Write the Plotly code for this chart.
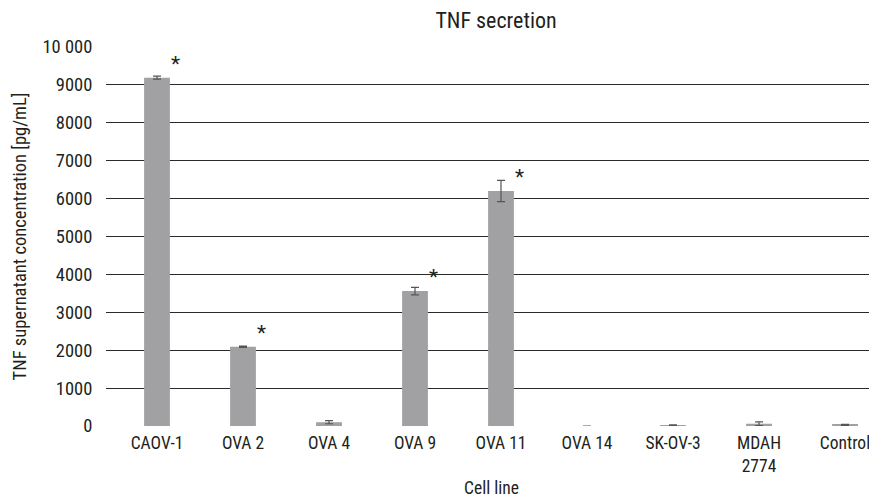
import plotly.graph_objects as go

categories = ["CAOV-1", "OVA 2", "OVA 4", "OVA 9", "OVA 11", "OVA 14", "SK-OV-3", "MDAH<br>2774", "Control"]
values = [9190, 2090, 100, 3560, 6200, 0, 20, 60, 30]
errors = [40, 15, 40, 100, 280, 0, 10, 50, 15]
significant = [True, True, False, True, True, False, False, False, False]
ytick_vals = [0, 1000, 2000, 3000, 4000, 5000, 6000, 7000, 8000, 9000, 10000]
ytick_text = ["0", "1000", "2000", "3000", "4000", "5000", "6000", "7000", "8000", "9000", "10 000"]

FONT = "Roboto Condensed, Liberation Sans Narrow, sans-serif"
TXT = "#231f20"
FS = 18.5
XFS = 17.5

xs = list(range(len(categories)))
fig = go.Figure()
fig.add_trace(go.Bar(
    x=xs, y=values, width=0.30,
    marker=dict(color="#a1a1a4", line=dict(width=0)),
    error_y=dict(type="data", array=errors, visible=True, color="#555555", thickness=1.2, width=4),
))

for i, (v, s) in enumerate(zip(values, significant)):
    if s:
        fig.add_annotation(x=i + 0.22, y=v, text="*", showarrow=False,
                           xref="x", yref="y", yshift=14,
                           font=dict(family=FONT, size=21, color=TXT))

# page body has an 8px margin, so the figure is sized/offset to compensate
fig.update_layout(
    width=869, height=490,
    margin=dict(l=98, r=0, t=39, b=72),
    paper_bgcolor="white", plot_bgcolor="white",
    showlegend=False,
    font=dict(family=FONT, size=FS, color=TXT),
    title=dict(text="TNF secretion", x=0.5616, xanchor="center", y=0.974, yanchor="middle",
               font=dict(family=FONT, size=22, color=TXT)),
)
fig.update_xaxes(
    tickmode="array", tickvals=xs, ticktext=categories, automargin=False,
    range=[-0.593, 8.372], showgrid=False, zeroline=False, showline=False,
    ticks="outside", ticklen=1, tickcolor="rgba(0,0,0,0)",
    title=dict(text="Cell line", font=dict(family=FONT, size=XFS, color=TXT), standoff=6),
    tickfont=dict(family=FONT, size=XFS, color=TXT),
)
fig.update_yaxes(
    range=[0, 10000], tickmode="array", tickvals=ytick_vals, ticktext=ytick_text, automargin=False,
    showgrid=True, gridcolor="#2a2a2a", gridwidth=1.2, zeroline=False, showline=False,
    ticks="outside", ticklen=9, tickcolor="rgba(0,0,0,0)",
    title=dict(text="TNF supernatant concentration [pg/mL]", font=dict(family=FONT, size=FS, color=TXT), standoff=10),
    tickfont=dict(family=FONT, size=FS, color=TXT),
)

fig.write_html("out.html")
